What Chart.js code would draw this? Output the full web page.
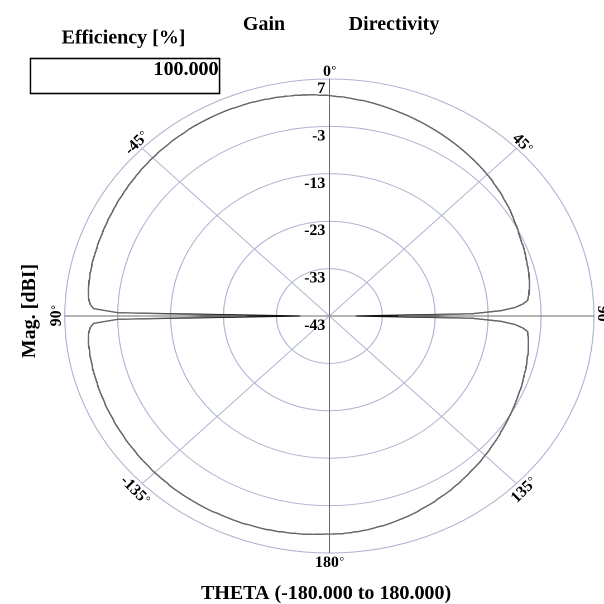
<!DOCTYPE html>
<html>
<head>
<meta charset="utf-8">
<script src="https://cdn.jsdelivr.net/npm/chart.js@4.4.1/dist/chart.umd.min.js"></script>
<style>
  html, body { margin: 0; padding: 0; background: #fff; overflow: hidden; }
  /* the polar grid is drawn as an ellipse: the canvas is widened horizontally */
  #wrap { position: absolute; left: 0; top: 0; width: 541px; height: 604px;
          transform: scaleX(1.11645); transform-origin: 0 0; }
</style>
</head>
<body>
<div id="wrap"><canvas id="c" width="541" height="604"></canvas></div>
<script>
const SX = 604 / 541;

// THETA, 1 degree steps, clockwise from 0 at the top (values > 180 are negative angles)
const thetaDeg = Array.from({ length: 360 }, (_, i) => i);
const thetaRange = [-180, 180];

// Gain [dBi] per THETA step
const gainDb = [
  3.5, 3.4, 3.3, 3.3, 3.2, 3.1, 3.0, 2.9, 2.9, 2.8,
  2.7, 2.6, 2.5, 2.4, 2.3, 2.2, 2.1, 2.0, 1.9, 1.8,
  1.7, 1.6, 1.5, 1.4, 1.3, 1.2, 1.1, 1.0, 0.9, 0.8,
  0.7, 0.6, 0.5, 0.4, 0.3, 0.2, 0.1, 0.0, -0.1, -0.2,
  -0.3, -0.4, -0.5, -0.6, -0.7, -0.8, -0.9, -1.0, -1.2, -1.3,
  -1.4, -1.5, -1.6, -1.8, -1.9, -2.0, -2.1, -2.2, -2.4, -2.5,
  -2.7, -2.8, -2.9, -3.0, -3.2, -3.3, -3.4, -3.5, -3.5, -3.6,
  -3.7, -3.8, -3.9, -4.0, -4.1, -4.1, -4.2, -4.3, -4.4, -4.5,
  -4.6, -4.7, -4.9, -5.0, -5.2, -5.4, -6.3, -7.8, -10.5, -16.0,
  -38.0, -16.0, -10.5, -7.8, -6.3, -5.4, -5.3, -5.1, -5.0, -4.9,
  -4.8, -4.7, -4.6, -4.6, -4.5, -4.4, -4.3, -4.2, -4.2, -4.1,
  -4.0, -3.9, -3.8, -3.7, -3.7, -3.6, -3.5, -3.4, -3.3, -3.2,
  -3.1, -3.0, -2.9, -2.8, -2.7, -2.6, -2.5, -2.4, -2.2, -2.1,
  -2.0, -1.9, -1.8, -1.6, -1.5, -1.4, -1.3, -1.1, -1.0, -0.9,
  -0.8, -0.7, -0.5, -0.4, -0.3, -0.1, 0.0, 0.1, 0.3, 0.4,
  0.5, 0.6, 0.7, 0.9, 1.0, 1.1, 1.2, 1.3, 1.5, 1.6,
  1.7, 1.8, 1.9, 2.0, 2.1, 2.2, 2.3, 2.4, 2.4, 2.5,
  2.6, 2.7, 2.7, 2.8, 2.8, 2.9, 2.9, 3.0, 3.0, 3.0,
  3.0, 3.0, 3.1, 3.1, 3.2, 3.2, 3.3, 3.3, 3.3, 3.4,
  3.4, 3.4, 3.5, 3.5, 3.5, 3.6, 3.6, 3.6, 3.6, 3.6,
  3.7, 3.7, 3.7, 3.7, 3.7, 3.7, 3.7, 3.7, 3.8, 3.8,
  3.8, 3.8, 3.8, 3.8, 3.8, 3.8, 3.8, 3.8, 3.8, 3.8,
  3.8, 3.7, 3.7, 3.7, 3.7, 3.7, 3.7, 3.6, 3.6, 3.6,
  3.6, 3.6, 3.5, 3.5, 3.5, 3.5, 3.5, 3.4, 3.4, 3.4,
  3.4, 3.4, 3.3, 3.3, 3.3, 3.3, 3.3, 3.2, 3.2, 3.2,
  3.2, 3.2, 3.1, 3.1, 3.1, 3.1, 3.1, 3.0, 3.0, 3.0,
  3.0, 2.9, 2.9, 2.9, 2.8, 2.7, 2.5, 2.2, 1.6, -3.0,
  -37.5, -3.0, 1.6, 2.2, 2.5, 2.7, 2.8, 2.9, 2.9, 3.0,
  3.0, 3.1, 3.1, 3.1, 3.2, 3.2, 3.2, 3.2, 3.2, 3.3,
  3.3, 3.3, 3.3, 3.4, 3.4, 3.4, 3.5, 3.5, 3.5, 3.6,
  3.6, 3.7, 3.7, 3.7, 3.8, 3.8, 3.9, 3.9, 3.9, 4.0,
  4.0, 4.1, 4.1, 4.1, 4.2, 4.2, 4.2, 4.3, 4.3, 4.3,
  4.3, 4.4, 4.4, 4.4, 4.4, 4.4, 4.5, 4.5, 4.5, 4.5,
  4.5, 4.5, 4.5, 4.5, 4.5, 4.5, 4.5, 4.5, 4.4, 4.4,
  4.4, 4.4, 4.4, 4.3, 4.3, 4.3, 4.2, 4.2, 4.2, 4.1,
  4.1, 4.0, 4.0, 3.9, 3.9, 3.8, 3.8, 3.7, 3.6, 3.6
];

// Directivity [dBi] per THETA step
const directivityDb = [
  3.5, 3.4, 3.3, 3.3, 3.2, 3.1, 3.0, 2.9, 2.9, 2.8,
  2.7, 2.6, 2.5, 2.4, 2.3, 2.2, 2.1, 2.0, 1.9, 1.8,
  1.7, 1.6, 1.5, 1.4, 1.3, 1.2, 1.1, 1.0, 0.9, 0.8,
  0.7, 0.6, 0.5, 0.4, 0.3, 0.2, 0.1, 0.0, -0.1, -0.2,
  -0.3, -0.4, -0.5, -0.6, -0.7, -0.8, -0.9, -1.0, -1.2, -1.3,
  -1.4, -1.5, -1.6, -1.8, -1.9, -2.0, -2.1, -2.2, -2.4, -2.5,
  -2.7, -2.8, -2.9, -3.0, -3.2, -3.3, -3.4, -3.5, -3.5, -3.6,
  -3.7, -3.8, -3.9, -4.0, -4.1, -4.1, -4.2, -4.3, -4.4, -4.5,
  -4.6, -4.7, -4.9, -5.0, -5.2, -5.4, -6.3, -7.8, -10.5, -16.0,
  -30.0, -16.0, -10.5, -7.8, -6.3, -5.4, -5.3, -5.1, -5.0, -4.9,
  -4.8, -4.7, -4.6, -4.6, -4.5, -4.4, -4.3, -4.2, -4.2, -4.1,
  -4.0, -3.9, -3.8, -3.7, -3.7, -3.6, -3.5, -3.4, -3.3, -3.2,
  -3.1, -3.0, -2.9, -2.8, -2.7, -2.6, -2.5, -2.4, -2.2, -2.1,
  -2.0, -1.9, -1.8, -1.6, -1.5, -1.4, -1.3, -1.1, -1.0, -0.9,
  -0.8, -0.7, -0.5, -0.4, -0.3, -0.1, 0.0, 0.1, 0.3, 0.4,
  0.5, 0.6, 0.7, 0.9, 1.0, 1.1, 1.2, 1.3, 1.5, 1.6,
  1.7, 1.8, 1.9, 2.0, 2.1, 2.2, 2.3, 2.4, 2.4, 2.5,
  2.6, 2.7, 2.7, 2.8, 2.8, 2.9, 2.9, 3.0, 3.0, 3.0,
  3.0, 3.0, 3.1, 3.1, 3.2, 3.2, 3.3, 3.3, 3.3, 3.4,
  3.4, 3.4, 3.5, 3.5, 3.5, 3.6, 3.6, 3.6, 3.6, 3.6,
  3.7, 3.7, 3.7, 3.7, 3.7, 3.7, 3.7, 3.7, 3.8, 3.8,
  3.8, 3.8, 3.8, 3.8, 3.8, 3.8, 3.8, 3.8, 3.8, 3.8,
  3.8, 3.7, 3.7, 3.7, 3.7, 3.7, 3.7, 3.6, 3.6, 3.6,
  3.6, 3.6, 3.5, 3.5, 3.5, 3.5, 3.5, 3.4, 3.4, 3.4,
  3.4, 3.4, 3.3, 3.3, 3.3, 3.3, 3.3, 3.2, 3.2, 3.2,
  3.2, 3.2, 3.1, 3.1, 3.1, 3.1, 3.1, 3.0, 3.0, 3.0,
  3.0, 2.9, 2.9, 2.9, 2.8, 2.7, 2.5, 2.2, 1.6, -3.0,
  -27.5, -3.0, 1.6, 2.2, 2.5, 2.7, 2.8, 2.9, 2.9, 3.0,
  3.0, 3.1, 3.1, 3.1, 3.2, 3.2, 3.2, 3.2, 3.2, 3.3,
  3.3, 3.3, 3.3, 3.4, 3.4, 3.4, 3.5, 3.5, 3.5, 3.6,
  3.6, 3.7, 3.7, 3.7, 3.8, 3.8, 3.9, 3.9, 3.9, 4.0,
  4.0, 4.1, 4.1, 4.1, 4.2, 4.2, 4.2, 4.3, 4.3, 4.3,
  4.3, 4.4, 4.4, 4.4, 4.4, 4.4, 4.5, 4.5, 4.5, 4.5,
  4.5, 4.5, 4.5, 4.5, 4.5, 4.5, 4.5, 4.5, 4.4, 4.4,
  4.4, 4.4, 4.4, 4.3, 4.3, 4.3, 4.2, 4.2, 4.2, 4.1,
  4.1, 4.0, 4.0, 3.9, 3.9, 3.8, 3.8, 3.7, 3.6, 3.6
];

// ring values [dBi] and angle marks
const magTicks = [-43, -33, -23, -13, -3, 7];
const angleMarks = [0, 45, 90, 135, 180, 225, 270, 315];
const angleMarkLabels = ['0', '45', '90', '135', '180', '-135', '90', '-45'];
const seriesNames = ['Gain', 'Directivity'];
const efficiencyPct = 100;

const SERIF = '"Liberation Serif", "Times New Roman", serif';

// all text is drawn in page pixels (undoing the horizontal widening)
const textPlugin = {
  id: 'polarText',
  afterDraw(chart) {
    const ctx = chart.ctx;
    const r = chart.scales.r;
    ctx.save();
    ctx.scale(1 / SX, 1);
    ctx.fillStyle = '#000';

    // ring values along the vertical axis
    ctx.font = `bold 16px ${SERIF}`;
    ctx.textAlign = 'right';
    ctx.textBaseline = 'alphabetic';
    magTicks.forEach(v => {
      const y = r.yCenter - r.getDistanceFromCenterForValue(v);
      ctx.fillText(String(v), r.xCenter * SX - 4, y + 14);
    });

    // angle marks around the outer ring, turned along the ring
    angleMarks.forEach((deg, k) => {
      const p = r.getPointPosition(deg, r.drawingArea * 1.035);
      let rot = deg > 180 ? deg - 360 : deg;
      if (rot > 90) rot -= 180; else if (rot < -90) rot += 180;
      ctx.save();
      ctx.translate(p.x * SX, p.y);
      ctx.rotate(rot * Math.PI / 180);
      const txt = angleMarkLabels[k];
      ctx.textAlign = 'left';
      ctx.font = `bold 16px ${SERIF}`;
      const w1 = ctx.measureText(txt).width;
      ctx.font = `12px ${SERIF}`;
      const w2 = ctx.measureText('°').width;
      const x0 = -(w1 + w2) / 2;
      ctx.font = `bold 16px ${SERIF}`;
      ctx.fillText(txt, x0, 5.5);
      ctx.font = `12px ${SERIF}`;
      ctx.fillText('°', x0 + w1 + 0.5, 3.5);
      ctx.restore();
    });

    // headings
    ctx.font = `bold 20px ${SERIF}`;
    ctx.textAlign = 'center';
    ctx.fillText(seriesNames[0], 264, 30);
    ctx.fillText(seriesNames[1], 394, 30);
    ctx.fillText('Efficiency [%]', 123.5, 43.5);
    ctx.fillText(`THETA (${thetaRange[0].toFixed(3)} to ${thetaRange[1].toFixed(3)})`, 326, 599);

    // efficiency box
    ctx.lineWidth = 1.6;
    ctx.strokeStyle = '#000';
    ctx.strokeRect(30.5, 58.5, 189, 35);
    ctx.textAlign = 'right';
    ctx.fillText(efficiencyPct.toFixed(3), 218.5, 75);

    // radial axis title
    ctx.save();
    ctx.translate(35, 311);
    ctx.rotate(-Math.PI / 2);
    ctx.textAlign = 'center';
    ctx.fillText('Mag. [dBI]', 0, 0);
    ctx.restore();

    ctx.restore();
  }
};

new Chart(document.getElementById('c'), {
  type: 'radar',
  data: {
    labels: thetaDeg,
    datasets: [
      { label: seriesNames[1], data: directivityDb, borderColor: '#6a6a6a', borderWidth: 1.2, order: 0 },
      { label: seriesNames[0], data: gainDb, borderColor: '#111111', borderWidth: 1.2, order: 1 }
    ]
  },
  options: {
    responsive: false,
    animation: false,
    devicePixelRatio: 2,
    events: [],
    layout: { padding: { left: 58, right: 9, top: 79, bottom: 51 } },
    elements: {
      point: { radius: 0, hoverRadius: 0, hitRadius: 0 },
      line: { tension: 0, fill: false }
    },
    plugins: { legend: { display: false }, tooltip: { enabled: false } },
    scales: {
      r: {
        min: magTicks[0],
        max: magTicks[magTicks.length - 1],
        ticks: { stepSize: 10, display: false },
        pointLabels: { display: false },
        grid: { circular: true, color: '#adb5d0', lineWidth: 1 },
        angleLines: {
          display: true,
          color: ctx => (ctx.index % 90 === 0 ? '#6a6a6a' : '#b3bad4'),
          lineWidth: ctx => (ctx.index % 45 === 0 ? 1 : 0)
        }
      }
    }
  },
  plugins: [textPlugin]
});
</script>
</body>
</html>
